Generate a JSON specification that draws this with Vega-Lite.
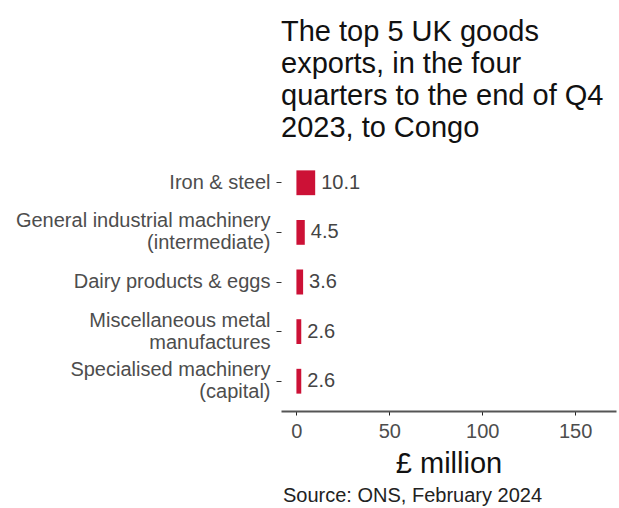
{
  "$schema": "https://vega.github.io/schema/vega-lite/v6.json",
  "padding": {"left": 15, "top": 18, "right": 2, "bottom": 2},
  "background": "white",
  "config": {"view": {"stroke": null}, "font": "Liberation Sans"},
  "title": {"text": "Source: ONS, February 2024", "orient": "bottom", "anchor": "start", "frame": "group", "dx": 2, "fontSize": 20, "fontWeight": "normal", "color": "#222", "offset": 8},
  "vconcat": [
    {
      "width": 335,
      "height": 258,
      "title": {"text": ["The top 5 UK goods", "exports, in the four", "quarters to the end of Q4", "2023, to Congo"], "anchor": "start", "frame": "group", "fontSize": 29, "fontWeight": "normal", "lineHeight": 32, "color": "#111", "offset": 10},
      "data": {"values": [
        {"product": "Iron & steel", "value": 10.1},
        {"product": "General industrial machinery|(intermediate)", "value": 4.5},
        {"product": "Dairy products & eggs", "value": 3.6},
        {"product": "Miscellaneous metal|manufactures", "value": 2.6},
        {"product": "Specialised machinery|(capital)", "value": 2.6}
      ]},
      "encoding": {
        "y": {
          "field": "product", "type": "nominal",
          "sort": ["Iron & steel", "General industrial machinery|(intermediate)", "Dairy products & eggs", "Miscellaneous metal|manufactures", "Specialised machinery|(capital)"],
          "scale": {"paddingInner": 0.5, "paddingOuter": 0.35},
          "axis": {"title": null, "labelExpr": "split(datum.label, '|')", "labelFontSize": 20, "labelColor": "#4d4d4d", "labelLineHeight": 22, "tickSize": 5, "tickColor": "#333", "labelPadding": 6, "domain": false, "labelLimit": 400,
            "labelOffset": {"condition": {"test": "indexof(datum.label, '|') >= 0", "value": -11}, "value": 0}}
        }
      },
      "layer": [
        {
          "mark": {"type": "bar", "color": "#cc1136"},
          "encoding": {
            "x": {"field": "value", "type": "quantitative",
              "scale": {"domain": [-8.3, 172], "nice": false, "zero": false},
              "axis": {"title": "£ million", "titleFontSize": 29, "titleFontWeight": "normal", "titleColor": "#111", "values": [0, 50, 100, 150], "labelFontSize": 20, "labelColor": "#4d4d4d", "tickSize": 4, "tickColor": "#222", "domainColor": "#555", "domainWidth": 2, "grid": false, "labelPadding": 6, "titlePadding": 8}
            },
            "x2": {"datum": 0}
          }
        },
        {
          "mark": {"type": "text", "align": "left", "dx": 6, "fontSize": 20, "color": "#444"},
          "encoding": {
            "x": {"field": "value", "type": "quantitative"},
            "text": {"field": "value", "type": "quantitative", "format": ".1f"}
          }
        }
      ]
    }
  ]
}
